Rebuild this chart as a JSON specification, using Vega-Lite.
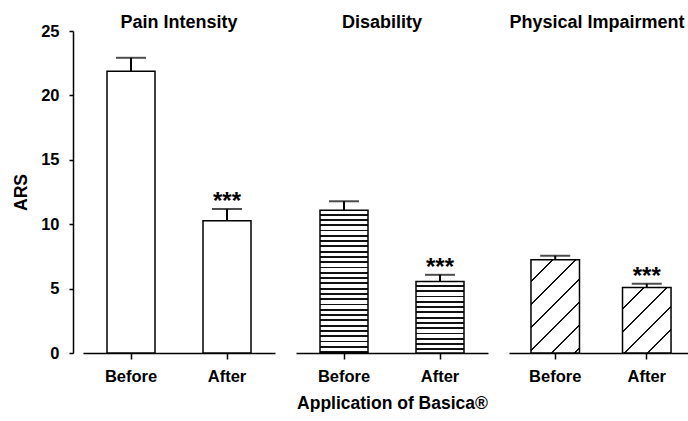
{
  "$schema": "https://vega.github.io/schema/vega-lite/v6.json",
  "padding": {"left": 12, "top": 14, "right": 0, "bottom": 0},
  "background": "white",
  "bounds": "flush",
  "spacing": 21,
  "datasets": {
    "ars": [
      {"measure": "Pain Intensity", "time": "Before", "mean": 21.87, "upper": 22.92, "sig": ""},
      {"measure": "Pain Intensity", "time": "After", "mean": 10.27, "upper": 11.18, "sig": "***"},
      {"measure": "Disability", "time": "Before", "mean": 11.08, "upper": 11.78, "sig": ""},
      {"measure": "Disability", "time": "After", "mean": 5.55, "upper": 6.07, "sig": "***"},
      {"measure": "Physical Impairment", "time": "Before", "mean": 7.24, "upper": 7.55, "sig": ""},
      {"measure": "Physical Impairment", "time": "After", "mean": 5.09, "upper": 5.37, "sig": "***"}
    ]
  },
  "hconcat": [
    {
      "width": 192,
      "height": 322,
      "title": {"text": "Pain Intensity", "dy": 13},
      "data": {"name": "ars"},
      "transform": [{"filter": "datum.measure === 'Pain Intensity'"}],
      "encoding": {
        "x": {"field": "time", "type": "nominal", "sort": ["Before", "After"], "scale": {"paddingInner": 0.5, "paddingOuter": 0.25}, "axis": {"title": null}}
      },
      "layer": [
        {
          "mark": {"type": "rule", "color": "black", "strokeWidth": 2},
          "encoding": {
            "y": {"field": "mean", "type": "quantitative", "scale": {"domain": [0, 25]}, "axis": {"title": "ARS", "values": [0, 5, 10, 15, 20, 25]}},
            "y2": {"field": "upper"}
          }
        },
        {
          "mark": {"type": "bar", "fill": "white", "stroke": "black", "strokeWidth": 1.5},
          "encoding": {
            "y": {"field": "mean", "type": "quantitative", "scale": {"domain": [0, 25]}, "axis": {"title": "ARS", "values": [0, 5, 10, 15, 20, 25]}}
          }
        },
        {
          "mark": {"type": "tick", "color": "black", "thickness": 2, "size": 30},
          "encoding": {
            "y": {"field": "upper", "type": "quantitative", "scale": {"domain": [0, 25]}, "axis": {"title": "ARS", "values": [0, 5, 10, 15, 20, 25]}}
          }
        },
        {
          "mark": {"type": "text", "font": "Liberation Sans", "fontWeight": "bold", "fontSize": 24, "baseline": "alphabetic", "color": "black", "dy": 0},
          "encoding": {
            "y": {"field": "upper", "type": "quantitative", "scale": {"domain": [0, 25]}, "axis": {"title": "ARS", "values": [0, 5, 10, 15, 20, 25]}},
            "text": {"field": "sig"}
          }
        }
      ]
    },
    {
      "width": 192,
      "height": 322,
      "title": {"text": "Disability", "dx": -10, "dy": 5},
      "data": {"name": "ars"},
      "transform": [{"filter": "datum.measure === 'Disability'"}],
      "encoding": {
        "x": {"field": "time", "type": "nominal", "sort": ["Before", "After"], "scale": {"paddingInner": 0.5, "paddingOuter": 0.25}, "axis": {"title": "Application of Basica®"}}
      },
      "layer": [
        {
          "mark": {"type": "rule", "color": "black", "strokeWidth": 2},
          "encoding": {
            "y": {"field": "mean", "type": "quantitative", "scale": {"domain": [0, 25]}, "axis": null},
            "y2": {"field": "upper"}
          }
        },
        {
          "transform": [{"filter": "datum.time === 'Before'"}],
          "mark": {"type": "bar", "stroke": "black", "strokeWidth": 1.5,
            "fill": {"gradient": "linear", "x1": 0, "y1": 0, "x2": 0, "y2": 1, "stops": [
              {"offset": 0, "color": "white"}, {"offset": 0.0241, "color": "white"}, {"offset": 0.0241, "color": "#111"}, {"offset": 0.037, "color": "#111"},
              {"offset": 0.037, "color": "white"}, {"offset": 0.0611, "color": "white"}, {"offset": 0.0611, "color": "#111"}, {"offset": 0.0741, "color": "#111"},
              {"offset": 0.0741, "color": "white"}, {"offset": 0.0981, "color": "white"}, {"offset": 0.0981, "color": "#111"}, {"offset": 0.1111, "color": "#111"},
              {"offset": 0.1111, "color": "white"}, {"offset": 0.1352, "color": "white"}, {"offset": 0.1352, "color": "#111"}, {"offset": 0.1481, "color": "#111"},
              {"offset": 0.1481, "color": "white"}, {"offset": 0.1722, "color": "white"}, {"offset": 0.1722, "color": "#111"}, {"offset": 0.1852, "color": "#111"},
              {"offset": 0.1852, "color": "white"}, {"offset": 0.2093, "color": "white"}, {"offset": 0.2093, "color": "#111"}, {"offset": 0.2222, "color": "#111"},
              {"offset": 0.2222, "color": "white"}, {"offset": 0.2463, "color": "white"}, {"offset": 0.2463, "color": "#111"}, {"offset": 0.2593, "color": "#111"},
              {"offset": 0.2593, "color": "white"}, {"offset": 0.2833, "color": "white"}, {"offset": 0.2833, "color": "#111"}, {"offset": 0.2963, "color": "#111"},
              {"offset": 0.2963, "color": "white"}, {"offset": 0.3204, "color": "white"}, {"offset": 0.3204, "color": "#111"}, {"offset": 0.3333, "color": "#111"},
              {"offset": 0.3333, "color": "white"}, {"offset": 0.3574, "color": "white"}, {"offset": 0.3574, "color": "#111"}, {"offset": 0.3704, "color": "#111"},
              {"offset": 0.3704, "color": "white"}, {"offset": 0.3944, "color": "white"}, {"offset": 0.3944, "color": "#111"}, {"offset": 0.4074, "color": "#111"},
              {"offset": 0.4074, "color": "white"}, {"offset": 0.4315, "color": "white"}, {"offset": 0.4315, "color": "#111"}, {"offset": 0.4444, "color": "#111"},
              {"offset": 0.4444, "color": "white"}, {"offset": 0.4685, "color": "white"}, {"offset": 0.4685, "color": "#111"}, {"offset": 0.4815, "color": "#111"},
              {"offset": 0.4815, "color": "white"}, {"offset": 0.5056, "color": "white"}, {"offset": 0.5056, "color": "#111"}, {"offset": 0.5185, "color": "#111"},
              {"offset": 0.5185, "color": "white"}, {"offset": 0.5426, "color": "white"}, {"offset": 0.5426, "color": "#111"}, {"offset": 0.5556, "color": "#111"},
              {"offset": 0.5556, "color": "white"}, {"offset": 0.5796, "color": "white"}, {"offset": 0.5796, "color": "#111"}, {"offset": 0.5926, "color": "#111"},
              {"offset": 0.5926, "color": "white"}, {"offset": 0.6167, "color": "white"}, {"offset": 0.6167, "color": "#111"}, {"offset": 0.6296, "color": "#111"},
              {"offset": 0.6296, "color": "white"}, {"offset": 0.6537, "color": "white"}, {"offset": 0.6537, "color": "#111"}, {"offset": 0.6667, "color": "#111"},
              {"offset": 0.6667, "color": "white"}, {"offset": 0.6907, "color": "white"}, {"offset": 0.6907, "color": "#111"}, {"offset": 0.7037, "color": "#111"},
              {"offset": 0.7037, "color": "white"}, {"offset": 0.7278, "color": "white"}, {"offset": 0.7278, "color": "#111"}, {"offset": 0.7407, "color": "#111"},
              {"offset": 0.7407, "color": "white"}, {"offset": 0.7648, "color": "white"}, {"offset": 0.7648, "color": "#111"}, {"offset": 0.7778, "color": "#111"},
              {"offset": 0.7778, "color": "white"}, {"offset": 0.8019, "color": "white"}, {"offset": 0.8019, "color": "#111"}, {"offset": 0.8148, "color": "#111"},
              {"offset": 0.8148, "color": "white"}, {"offset": 0.8389, "color": "white"}, {"offset": 0.8389, "color": "#111"}, {"offset": 0.8519, "color": "#111"},
              {"offset": 0.8519, "color": "white"}, {"offset": 0.8759, "color": "white"}, {"offset": 0.8759, "color": "#111"}, {"offset": 0.8889, "color": "#111"},
              {"offset": 0.8889, "color": "white"}, {"offset": 0.913, "color": "white"}, {"offset": 0.913, "color": "#111"}, {"offset": 0.9259, "color": "#111"},
              {"offset": 0.9259, "color": "white"}, {"offset": 0.95, "color": "white"}, {"offset": 0.95, "color": "#111"}, {"offset": 0.963, "color": "#111"},
              {"offset": 0.963, "color": "white"}, {"offset": 0.987, "color": "white"}, {"offset": 0.987, "color": "#111"}, {"offset": 1, "color": "#111"}
            ]}},
          "encoding": {
            "y": {"field": "mean", "type": "quantitative", "scale": {"domain": [0, 25]}, "axis": null}
          }
        },
        {
          "transform": [{"filter": "datum.time === 'After'"}],
          "mark": {"type": "bar", "stroke": "black", "strokeWidth": 1.5,
            "fill": {"gradient": "linear", "x1": 0, "y1": 0, "x2": 0, "y2": 1.996, "stops": [
              {"offset": 0, "color": "white"}, {"offset": 0.0241, "color": "white"}, {"offset": 0.0241, "color": "#111"}, {"offset": 0.037, "color": "#111"},
              {"offset": 0.037, "color": "white"}, {"offset": 0.0611, "color": "white"}, {"offset": 0.0611, "color": "#111"}, {"offset": 0.0741, "color": "#111"},
              {"offset": 0.0741, "color": "white"}, {"offset": 0.0981, "color": "white"}, {"offset": 0.0981, "color": "#111"}, {"offset": 0.1111, "color": "#111"},
              {"offset": 0.1111, "color": "white"}, {"offset": 0.1352, "color": "white"}, {"offset": 0.1352, "color": "#111"}, {"offset": 0.1481, "color": "#111"},
              {"offset": 0.1481, "color": "white"}, {"offset": 0.1722, "color": "white"}, {"offset": 0.1722, "color": "#111"}, {"offset": 0.1852, "color": "#111"},
              {"offset": 0.1852, "color": "white"}, {"offset": 0.2093, "color": "white"}, {"offset": 0.2093, "color": "#111"}, {"offset": 0.2222, "color": "#111"},
              {"offset": 0.2222, "color": "white"}, {"offset": 0.2463, "color": "white"}, {"offset": 0.2463, "color": "#111"}, {"offset": 0.2593, "color": "#111"},
              {"offset": 0.2593, "color": "white"}, {"offset": 0.2833, "color": "white"}, {"offset": 0.2833, "color": "#111"}, {"offset": 0.2963, "color": "#111"},
              {"offset": 0.2963, "color": "white"}, {"offset": 0.3204, "color": "white"}, {"offset": 0.3204, "color": "#111"}, {"offset": 0.3333, "color": "#111"},
              {"offset": 0.3333, "color": "white"}, {"offset": 0.3574, "color": "white"}, {"offset": 0.3574, "color": "#111"}, {"offset": 0.3704, "color": "#111"},
              {"offset": 0.3704, "color": "white"}, {"offset": 0.3944, "color": "white"}, {"offset": 0.3944, "color": "#111"}, {"offset": 0.4074, "color": "#111"},
              {"offset": 0.4074, "color": "white"}, {"offset": 0.4315, "color": "white"}, {"offset": 0.4315, "color": "#111"}, {"offset": 0.4444, "color": "#111"},
              {"offset": 0.4444, "color": "white"}, {"offset": 0.4685, "color": "white"}, {"offset": 0.4685, "color": "#111"}, {"offset": 0.4815, "color": "#111"},
              {"offset": 0.4815, "color": "white"}, {"offset": 0.5056, "color": "white"}, {"offset": 0.5056, "color": "#111"}, {"offset": 0.5185, "color": "#111"},
              {"offset": 0.5185, "color": "white"}, {"offset": 0.5426, "color": "white"}, {"offset": 0.5426, "color": "#111"}, {"offset": 0.5556, "color": "#111"},
              {"offset": 0.5556, "color": "white"}, {"offset": 0.5796, "color": "white"}, {"offset": 0.5796, "color": "#111"}, {"offset": 0.5926, "color": "#111"},
              {"offset": 0.5926, "color": "white"}, {"offset": 0.6167, "color": "white"}, {"offset": 0.6167, "color": "#111"}, {"offset": 0.6296, "color": "#111"},
              {"offset": 0.6296, "color": "white"}, {"offset": 0.6537, "color": "white"}, {"offset": 0.6537, "color": "#111"}, {"offset": 0.6667, "color": "#111"},
              {"offset": 0.6667, "color": "white"}, {"offset": 0.6907, "color": "white"}, {"offset": 0.6907, "color": "#111"}, {"offset": 0.7037, "color": "#111"},
              {"offset": 0.7037, "color": "white"}, {"offset": 0.7278, "color": "white"}, {"offset": 0.7278, "color": "#111"}, {"offset": 0.7407, "color": "#111"},
              {"offset": 0.7407, "color": "white"}, {"offset": 0.7648, "color": "white"}, {"offset": 0.7648, "color": "#111"}, {"offset": 0.7778, "color": "#111"},
              {"offset": 0.7778, "color": "white"}, {"offset": 0.8019, "color": "white"}, {"offset": 0.8019, "color": "#111"}, {"offset": 0.8148, "color": "#111"},
              {"offset": 0.8148, "color": "white"}, {"offset": 0.8389, "color": "white"}, {"offset": 0.8389, "color": "#111"}, {"offset": 0.8519, "color": "#111"},
              {"offset": 0.8519, "color": "white"}, {"offset": 0.8759, "color": "white"}, {"offset": 0.8759, "color": "#111"}, {"offset": 0.8889, "color": "#111"},
              {"offset": 0.8889, "color": "white"}, {"offset": 0.913, "color": "white"}, {"offset": 0.913, "color": "#111"}, {"offset": 0.9259, "color": "#111"},
              {"offset": 0.9259, "color": "white"}, {"offset": 0.95, "color": "white"}, {"offset": 0.95, "color": "#111"}, {"offset": 0.963, "color": "#111"},
              {"offset": 0.963, "color": "white"}, {"offset": 0.987, "color": "white"}, {"offset": 0.987, "color": "#111"}, {"offset": 1, "color": "#111"}
            ]}},
          "encoding": {
            "y": {"field": "mean", "type": "quantitative", "scale": {"domain": [0, 25]}, "axis": null}
          }
        },
        {
          "mark": {"type": "tick", "color": "black", "thickness": 2, "size": 30},
          "encoding": {
            "y": {"field": "upper", "type": "quantitative", "scale": {"domain": [0, 25]}, "axis": null}
          }
        },
        {
          "mark": {"type": "text", "font": "Liberation Sans", "fontWeight": "bold", "fontSize": 24, "baseline": "alphabetic", "color": "black", "dy": 0},
          "encoding": {
            "y": {"field": "upper", "type": "quantitative", "scale": {"domain": [0, 25]}, "axis": null},
            "text": {"field": "sig"}
          }
        }
      ]
    },
    {
      "width": 184,
      "height": 322,
      "title": {"text": "Physical Impairment", "dx": -4, "dy": 5},
      "data": {"name": "ars"},
      "transform": [{"filter": "datum.measure === 'Physical Impairment'"}],
      "encoding": {
        "x": {"field": "time", "type": "nominal", "sort": ["Before", "After"], "scale": {"paddingInner": 0.47, "paddingOuter": 0.24}, "axis": {"title": null}}
      },
      "layer": [
        {
          "mark": {"type": "rule", "color": "black", "strokeWidth": 2},
          "encoding": {
            "y": {"field": "mean", "type": "quantitative", "scale": {"domain": [0, 25]}, "axis": null},
            "y2": {"field": "upper"}
          }
        },
        {
          "transform": [{"filter": "datum.time === 'Before'"}],
          "mark": {"type": "bar", "stroke": "black", "strokeWidth": 1.5,
            "fill": {"gradient": "linear", "x1": 0, "y1": 0, "x2": 0.8078, "y2": 1.5531, "stops": [
              {"offset": 0, "color": "white"}, {"offset": 0.1125, "color": "white"}, {"offset": 0.1125, "color": "#111"}, {"offset": 0.125, "color": "#111"},
              {"offset": 0.125, "color": "white"}, {"offset": 0.2375, "color": "white"}, {"offset": 0.2375, "color": "#111"}, {"offset": 0.25, "color": "#111"},
              {"offset": 0.25, "color": "white"}, {"offset": 0.3625, "color": "white"}, {"offset": 0.3625, "color": "#111"}, {"offset": 0.375, "color": "#111"},
              {"offset": 0.375, "color": "white"}, {"offset": 0.4875, "color": "white"}, {"offset": 0.4875, "color": "#111"}, {"offset": 0.5, "color": "#111"},
              {"offset": 0.5, "color": "white"}, {"offset": 0.6125, "color": "white"}, {"offset": 0.6125, "color": "#111"}, {"offset": 0.625, "color": "#111"},
              {"offset": 0.625, "color": "white"}, {"offset": 0.7375, "color": "white"}, {"offset": 0.7375, "color": "#111"}, {"offset": 0.75, "color": "#111"},
              {"offset": 0.75, "color": "white"}, {"offset": 0.8625, "color": "white"}, {"offset": 0.8625, "color": "#111"}, {"offset": 0.875, "color": "#111"},
              {"offset": 0.875, "color": "white"}, {"offset": 0.9875, "color": "white"}, {"offset": 0.9875, "color": "#111"}, {"offset": 1, "color": "#111"}
            ]}},
          "encoding": {
            "y": {"field": "mean", "type": "quantitative", "scale": {"domain": [0, 25]}, "axis": null}
          }
        },
        {
          "transform": [{"filter": "datum.time === 'After'"}],
          "mark": {"type": "bar", "stroke": "black", "strokeWidth": 1.5,
            "fill": {"gradient": "linear", "x1": 0, "y1": 0, "x2": 1.342, "y2": 1.814, "stops": [
              {"offset": 0, "color": "white"}, {"offset": 0.1125, "color": "white"}, {"offset": 0.1125, "color": "#111"}, {"offset": 0.125, "color": "#111"},
              {"offset": 0.125, "color": "white"}, {"offset": 0.2375, "color": "white"}, {"offset": 0.2375, "color": "#111"}, {"offset": 0.25, "color": "#111"},
              {"offset": 0.25, "color": "white"}, {"offset": 0.3625, "color": "white"}, {"offset": 0.3625, "color": "#111"}, {"offset": 0.375, "color": "#111"},
              {"offset": 0.375, "color": "white"}, {"offset": 0.4875, "color": "white"}, {"offset": 0.4875, "color": "#111"}, {"offset": 0.5, "color": "#111"},
              {"offset": 0.5, "color": "white"}, {"offset": 0.6125, "color": "white"}, {"offset": 0.6125, "color": "#111"}, {"offset": 0.625, "color": "#111"},
              {"offset": 0.625, "color": "white"}, {"offset": 0.7375, "color": "white"}, {"offset": 0.7375, "color": "#111"}, {"offset": 0.75, "color": "#111"},
              {"offset": 0.75, "color": "white"}, {"offset": 0.8625, "color": "white"}, {"offset": 0.8625, "color": "#111"}, {"offset": 0.875, "color": "#111"},
              {"offset": 0.875, "color": "white"}, {"offset": 0.9875, "color": "white"}, {"offset": 0.9875, "color": "#111"}, {"offset": 1, "color": "#111"}
            ]}},
          "encoding": {
            "y": {"field": "mean", "type": "quantitative", "scale": {"domain": [0, 25]}, "axis": null}
          }
        },
        {
          "mark": {"type": "tick", "color": "black", "thickness": 2, "size": 30},
          "encoding": {
            "y": {"field": "upper", "type": "quantitative", "scale": {"domain": [0, 25]}, "axis": null}
          }
        },
        {
          "mark": {"type": "text", "font": "Liberation Sans", "fontWeight": "bold", "fontSize": 24, "baseline": "alphabetic", "color": "black", "dy": 0},
          "encoding": {
            "y": {"field": "upper", "type": "quantitative", "scale": {"domain": [0, 25]}, "axis": null},
            "text": {"field": "sig"}
          }
        }
      ]
    }
  ],
  "config": {
    "view": {"stroke": null},
    "axis": {
      "grid": false,
      "domainColor": "black", "domainWidth": 1.5,
      "tickColor": "black", "tickWidth": 1.5,
      "labelFont": "Liberation Sans", "labelFontWeight": "bold", "labelFontSize": 16.5, "labelColor": "black",
      "titleFont": "Liberation Sans", "titleFontWeight": "bold", "titleFontSize": 17.5, "titleColor": "black"
    },
    "axisX": {"tickSize": 6, "labelPadding": 9, "labelAngle": 0, "titlePadding": 10},
    "axisY": {"tickSize": 4, "labelPadding": 10, "offset": 10, "titlePadding": 10},
    "title": {"font": "Liberation Sans", "fontWeight": "bold", "fontSize": 18, "color": "black", "offset": 0}
  }
}
